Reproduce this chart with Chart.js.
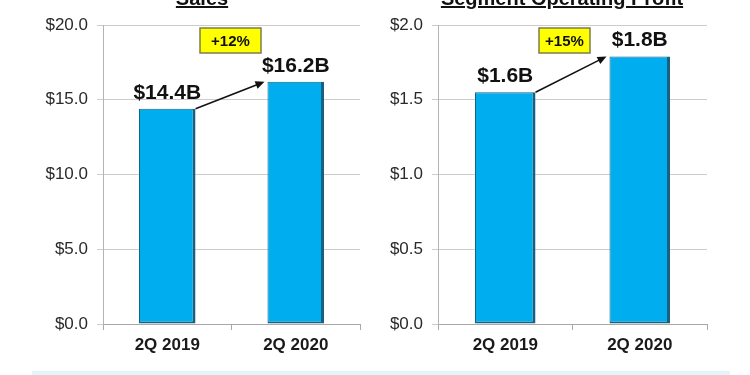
<!DOCTYPE html>
<html>
<head>
<meta charset="utf-8">
<script src="https://cdn.jsdelivr.net/npm/chart.js@4/dist/chart.umd.min.js"></script>
<style>
    body { margin: 0; background: #ffffff; }
    #lienzo { position: relative; width: 750px; height: 375px; overflow: hidden; background: #ffffff; }
    .caja { position: absolute; top: 0; width: 375px; height: 375px; }
    .titulo { position: absolute; top: -12px; font: bold 20px "Liberation Sans", Arial, sans-serif; line-height: 20px;
              text-decoration: underline; text-align: center; color: #111111; }
    #franja { position: absolute; left: 32px; top: 371px; width: 698px; height: 4px; background: #e4f4fb; }
</style>
</head>
<body>
<div id="lienzo">
    <div class="caja" style="left:0"><canvas id="graficoVentas" width="375" height="375"></canvas></div>
    <div class="caja" style="left:375px"><canvas id="graficoUtilidad" width="375" height="375"></canvas></div>
    <div class="titulo" style="left:102px; width:200px">Sales</div>
    <div class="titulo" style="left:412px; width:300px">Segment Operating Profit</div>
    <div id="franja"></div>
</div>
<script>
// Datos
const categorias = ['2Q 2019', '2Q 2020'];
const ventas = [14.4, 16.2];
const ventasEtiquetas = ['$14.4B', '$16.2B'];
const ventasCrecimiento = '+12%';
const utilidad = [1.55, 1.79];
const utilidadEtiquetas = ['$1.6B', '$1.8B'];
const utilidadCrecimiento = '+15%';
const ventasEje = [0, 20, 5];      // min, max, paso
const utilidadEje = [0, 2, 0.5];

const fuente = '"Liberation Sans", Arial, sans-serif';

// Etiquetas, flecha y caja amarilla
const anotaciones = {
    id: 'anotaciones',
    afterDatasetsDraw(chart, args, opts) {
        const ctx = chart.ctx;
        const barras = chart.getDatasetMeta(0).data;
        const area = chart.chartArea;
        ctx.save();

        // valores sobre las barras
        ctx.fillStyle = '#111111';
        ctx.font = 'bold 21px ' + fuente;
        ctx.textAlign = 'center';
        ctx.textBaseline = 'alphabetic';
        barras.forEach((b, i) => {
            ctx.fillText(opts.textos[i], b.x, b.y - 10);
        });

        // flecha
        const b1 = barras[0], b2 = barras[1];
        const x1 = b1.x + b1.width / 2, y1 = b1.y;
        const x2 = b2.x - b2.width / 2 - 3, y2 = b2.y;
        const ang = Math.atan2(y2 - y1, x2 - x1);
        ctx.strokeStyle = '#111111';
        ctx.lineWidth = 1.5;
        ctx.beginPath();
        ctx.moveTo(x1, y1);
        ctx.lineTo(x2 - 6 * Math.cos(ang), y2 - 6 * Math.sin(ang));
        ctx.stroke();
        ctx.beginPath();
        ctx.moveTo(x2, y2);
        ctx.lineTo(x2 - 9 * Math.cos(ang) + 4 * Math.sin(ang), y2 - 9 * Math.sin(ang) - 4 * Math.cos(ang));
        ctx.lineTo(x2 - 9 * Math.cos(ang) - 4 * Math.sin(ang), y2 - 9 * Math.sin(ang) + 4 * Math.cos(ang));
        ctx.closePath();
        ctx.fill();

        // caja de crecimiento
        const cx = chart.scales.x.getPixelForValue(0.5) + opts.dx;
        const w = opts.ancho, h = 25;
        const top = area.top + 3;
        ctx.fillStyle = '#ffff00';
        ctx.fillRect(cx - w / 2, top, w, h);
        ctx.strokeStyle = '#7d7d4a';
        ctx.lineWidth = 1.5;
        ctx.strokeRect(cx - w / 2, top, w, h);
        ctx.fillStyle = '#111111';
        ctx.font = 'bold 15px ' + fuente;
        ctx.textBaseline = 'middle';
        ctx.fillText(opts.crecimiento, cx, top + h / 2 + 1);
        ctx.restore();
    }
};

function crearGrafico(idCanvas, valores, eje, anchoEje, padDer, barPct, anot) {
    const mostrar = document.getElementById(idCanvas);
    return new Chart(mostrar, {
        type: 'bar',
        data: {
            labels: categorias,
            datasets: [{
                data: valores,
                backgroundColor: '#00aeef',
                borderColor: '#17607f',
                borderWidth: { left: 1, right: 3, top: 1, bottom: 2 },
                borderSkipped: false,
                categoryPercentage: 1,
                barPercentage: barPct
            }]
        },
        options: {
            responsive: false,
            animation: false,
            layout: { padding: { top: 25, right: padDer, left: 0, bottom: 0 } },
            plugins: {
                legend: { display: false },
                tooltip: { enabled: false },
                anotaciones: anot
            },
            scales: {
                x: {
                    grid: { drawOnChartArea: false, color: '#a8a8a8', tickLength: 6, offset: true },
                    border: { color: '#a8a8a8' },
                    ticks: { font: { family: fuente, size: 17, weight: 'bold' }, color: '#1a1a1a', padding: 5 },
                    afterFit: (s) => { s.height = 51; }
                },
                y: {
                    min: eje[0],
                    max: eje[1],
                    ticks: {
                        stepSize: eje[2],
                        callback: (v) => '$' + v.toFixed(1),
                        font: { family: fuente, size: 17 },
                        color: '#2a2a2a',
                        padding: 9
                    },
                    grid: { color: '#cccccc', tickLength: 6 },
                    border: { color: '#b4b4b4' },
                    afterFit: (s) => { s.width = anchoEje; }
                }
            }
        },
        plugins: [anotaciones]
    });
}

crearGrafico('graficoVentas', ventas, ventasEje, 103, 15, 0.44,
    { textos: ventasEtiquetas, crecimiento: ventasCrecimiento, dx: -1, ancho: 61 });
crearGrafico('graficoUtilidad', utilidad, utilidadEje, 63, 43, 0.45,
    { textos: utilidadEtiquetas, crecimiento: utilidadCrecimiento, dx: -8, ancho: 51 });
</script>
</body>
</html>
